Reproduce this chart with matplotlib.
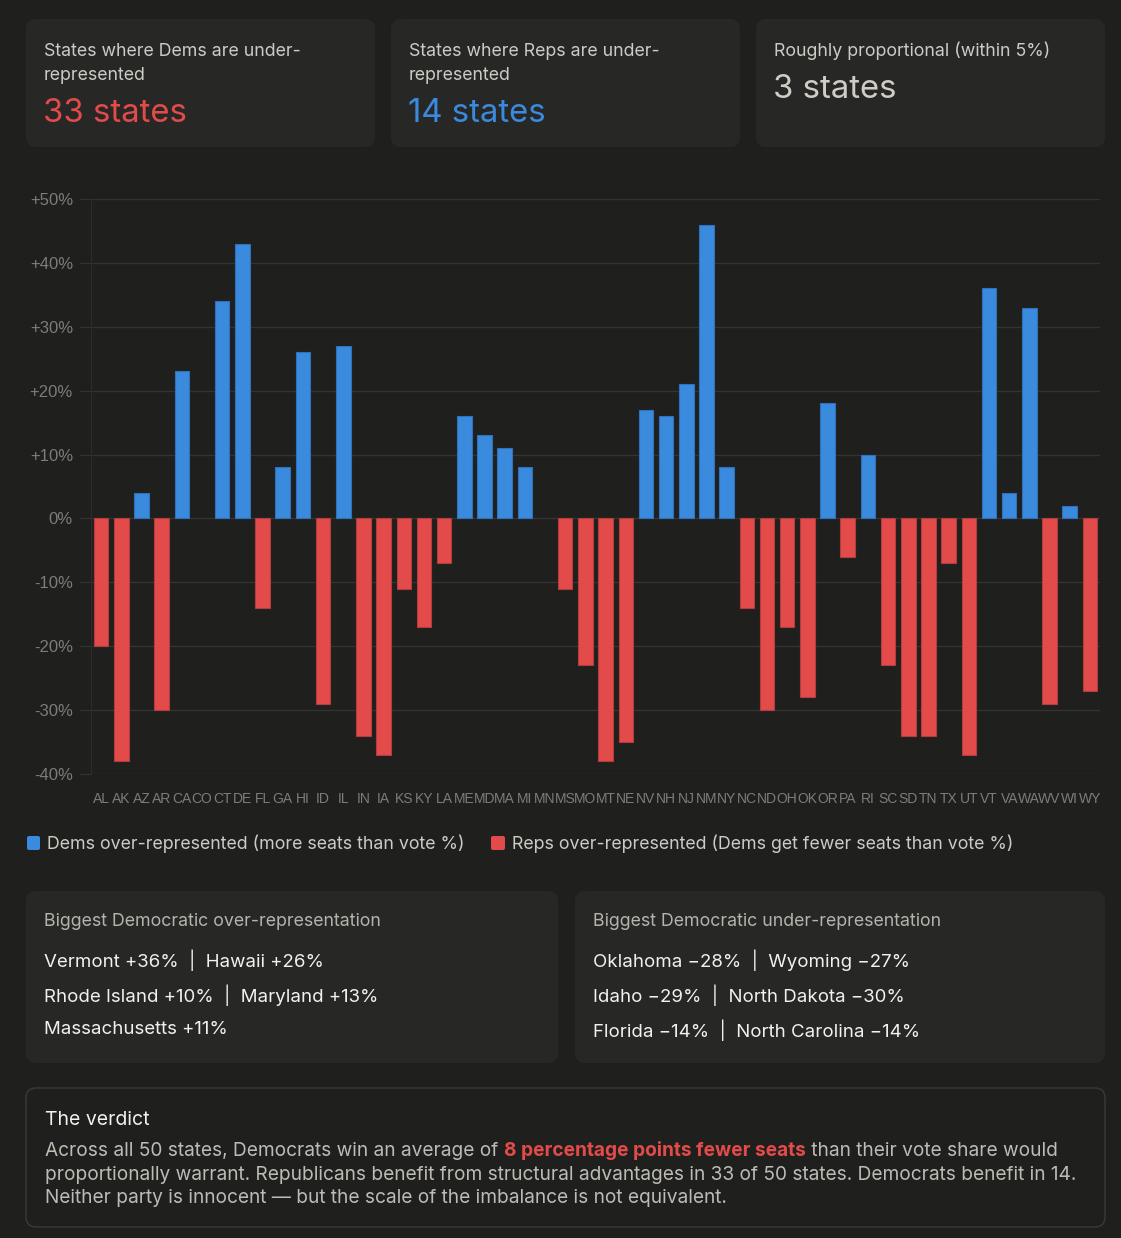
import matplotlib
matplotlib.use("Agg")
import matplotlib.pyplot as plt
from matplotlib.patches import FancyBboxPatch
from matplotlib.transforms import IdentityTransform

# === Data ===
states = ['AL', 'AK', 'AZ', 'AR', 'CA', 'CO', 'CT', 'DE', 'FL', 'GA',
          'HI', 'ID', 'IL', 'IN', 'IA', 'KS', 'KY', 'LA', 'ME', 'MD',
          'MA', 'MI', 'MN', 'MS', 'MO', 'MT', 'NE', 'NV', 'NH', 'NJ',
          'NM', 'NY', 'NC', 'ND', 'OH', 'OK', 'OR', 'PA', 'RI', 'SC',
          'SD', 'TN', 'TX', 'UT', 'VT', 'VA', 'WA', 'WV', 'WI', 'WY']
gap = [-20, -38, 4, -30, 23, 0, 34, 43, -14, 8,
       26, -29, 27, -34, -37, -11, -17, -7, 16, 13,
       11, 8, 0, -11, -23, -38, -35, 17, 16, 21,
       46, 8, -14, -30, -17, -28, 18, -6, 10, -23,
       -34, -34, -7, -37, 36, 4, 33, -29, 2, -27]
yticks = [-40, -30, -20, -10, 0, 10, 20, 30, 40, 50]
ytick_labels = ['-40%', '-30%', '-20%', '-10%', '0%', '+10%', '+20%', '+30%', '+40%', '+50%']

cards = [(["States where Dems are under-", "represented"], "33 states"),
         (["States where Reps are under-", "represented"], "14 states"),
         (["Roughly proportional (within 5%)"], "3 states")]
legend_labels = ["Dems over-represented (more seats than vote %)",
                 "Reps over-represented (Dems get fewer seats than vote %)"]
over_title = "Biggest Democratic over-representation"
over_lines = ["Vermont +36%  |  Hawaii +26%",
              "Rhode Island +10%  |  Maryland +13%",
              "Massachusetts +11%"]
under_title = "Biggest Democratic under-representation"
under_lines = ["Oklahoma \u221228%  |  Wyoming \u221227%",
               "Idaho \u221229%  |  North Dakota \u221230%",
               "Florida \u221214%  |  North Carolina \u221214%"]
verdict_title = "The verdict"
verdict_lines = [
    [("Across all 50 states, Democrats win an average of ", False),
     ("8 percentage points fewer seats", True),
     (" than their vote share would", False)],
    [("proportionally warrant. Republicans benefit from structural advantages in 33 of 50 states. Democrats benefit in 14.", False)],
    [("Neither party is innocent \u2014 but the scale of the imbalance is not equivalent.", False)],
]

# === Style ===
BG = '#1f1f1e'
CARD = '#272726'
BLUE = '#3a8ade'
RED = '#e34b4b'
TXT = '#cdcbc4'
WHITE = '#f2f1ec'
GRID = '#333332'
FONT = ['Inter', 'DejaVu Sans']
TICKFONT = ['Liberation Sans', 'DejaVu Sans']

W, H = 1121, 1238
fig = plt.figure(figsize=(W / 100, H / 100), dpi=100, facecolor=BG)
ident = IdentityTransform()
renderer = fig.canvas.get_renderer()


def box(x0, y0, x1, y1, fc, ec='none', r=10):
    p = FancyBboxPatch((x0, H - y1), x1 - x0, y1 - y0,
                       boxstyle=f"round,pad=0,rounding_size={r}",
                       transform=ident, fc=fc, ec=ec, lw=1, zorder=0)
    fig.patches.append(p)


def txt(x, y, s, size, color, weight='normal', va='center'):
    return fig.text(x, H - y, s, transform=ident, fontsize=size, color=color,
                    family=FONT, weight=weight, va=va, ha='left')


# === Top cards ===
card_x = [(26, 375), (391, 740), (756, 1105)]
num_colors = [RED, BLUE, '#cfcdc6']
for (x0, x1), (label, num), c in zip(card_x, cards, num_colors):
    box(x0, 19, x1, 147, CARD)
    for i, line in enumerate(label):
        txt(x0 + 18, 51 + 24 * i, line, 12.8, TXT)
    num_y = 114 if len(label) > 1 else 90
    txt(x0 + 17, num_y, num, 23.7, c)

# === Bar chart ===
ax = fig.add_axes([91 / W, 1 - 774 / H, (1100 - 91) / W, (774 - 199) / H])
ax.set_facecolor(BG)
x = list(range(len(states)))
colors = [BLUE if v > 0 else RED for v in gap]
edges = ['#2f72ba' if v > 0 else ('#b23d3d' if v < 0 else 'none') for v in gap]
ax.bar(x, gap, width=0.72, color=colors, edgecolor=edges, linewidth=0.8, zorder=3)
ax.set_xlim(-0.5, len(states) - 0.5)
ax.set_ylim(-40, 50)
ax.set_yticks(yticks)
ax.set_yticklabels(ytick_labels, family=TICKFONT, color='#7c7c7a')
ax.set_xticks(x)
ax.set_xticklabels(states, family=TICKFONT, color='#7c7c7a')
ax.tick_params(axis='y', length=8, color=GRID, pad=5, labelsize=12)
ax.tick_params(axis='x', length=0, pad=13, labelsize=10.0)
ax.grid(axis='y', color=GRID, linewidth=1, zorder=0)
for s in ['top', 'right', 'bottom']:
    ax.spines[s].set_visible(False)
ax.spines['left'].set_color('#2c2c2b')

# y labels: "+50%" is about 43 px wide in the reference
fig.canvas.draw()
lab = ax.get_yticklabels()[-1]
wpx = lab.get_window_extent(renderer).width
if wpx > 0:
    ax.tick_params(axis='y', labelsize=12 * 43 / wpx)

# === Legend ===
box(27, 836, 40, 850, BLUE, r=2)
txt(47, 844, legend_labels[0], 12.8, TXT)
box(491, 836, 505, 850, RED, r=2)
txt(512, 844, legend_labels[1], 12.8, TXT)

# === Bottom panels ===
for (x0, x1), title, lines in [((26, 558), over_title, over_lines),
                               ((575, 1105), under_title, under_lines)]:
    box(x0, 891, x1, 1063, CARD)
    txt(x0 + 18, 922, title, 12.8, '#b5b3ac')
    for i, line in enumerate(lines):
        txt(x0 + 18, 960 + 35 * i, line, 13.45, WHITE)

# === Verdict ===
box(26, 1088, 1105, 1227, BG, ec='#3a3a39', r=10)
txt(45, 1120, verdict_title, 14, WHITE)
for i, parts in enumerate(verdict_lines):
    cx = 45
    for s, bold in parts:
        t = txt(cx, 1156 + 23.5 * i, s, 13.75, RED if bold else '#bdbbb4',
                weight='bold' if bold else 'normal', va='baseline')
        cx = t.get_window_extent(renderer).x1

fig.savefig('out.png', dpi=100, facecolor=BG)
